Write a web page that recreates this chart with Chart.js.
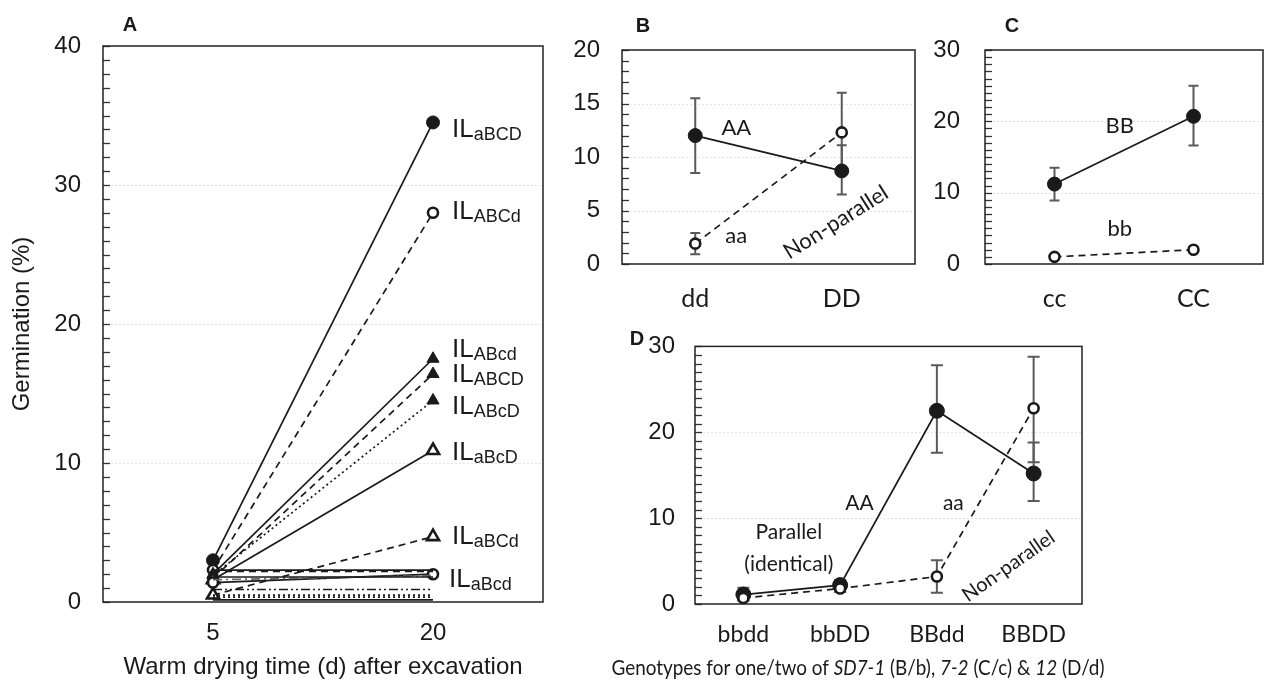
<!DOCTYPE html>
<html>
<head>
<meta charset="utf-8">
<script src="https://cdn.jsdelivr.net/npm/chart.js@4.4.1/dist/chart.umd.min.js"></script>
<style>
  html, body { margin: 0; padding: 0; background: #fff; }
  #wrap { position: relative; width: 1271px; height: 685px; overflow: hidden; }
  canvas { position: absolute; }
</style>
</head>
<body>
<div id="wrap">
  <canvas id="chartA" width="560" height="685" style="left:0;top:0"></canvas>
  <canvas id="chartB" width="370" height="320" style="left:560px;top:0"></canvas>
  <canvas id="chartC" width="341" height="320" style="left:930px;top:0"></canvas>
  <canvas id="chartD" width="671" height="373" style="left:600px;top:312px"></canvas>
</div>
<script>
/* ---- A: germination after warm drying, per introgression line ---- */
const A_DAYS  = ['5', '20'];
const A_TICKS = [0, 10, 20, 30, 40];
const IL_aBCD = [3.0, 34.5];
const IL_ABCd = [2.3, 28.0];
const IL_ABcd = [2.0, 17.5];
const IL_ABCD = [1.7, 16.4];
const IL_ABcD = [1.9, 14.5];
const IL_aBcD = [1.6, 10.9];
const IL_aBCd = [0.5, 4.7];
const IL_aBcd = [1.4, 2.0];
// unlabelled lines (stay low)
const IL_OTHER_1 = [2.3, 2.3];
const IL_OTHER_2 = [2.2, 2.2];
const IL_OTHER_3 = [1.6, 1.9];
const IL_OTHER_4 = [1.8, 1.8];
const IL_OTHER_5 = [0.9, 0.9];
const IL_OTHER_6 = [0.5, 0.5];
const IL_OTHER_7 = [0.35, 0.35];
const IL_OTHER_8 = [0.15, 0.15];

/* ---- B: A x D ---- */
const B_GENO  = ['dd', 'DD'];
const B_TICKS = [0, 5, 10, 15, 20];
const B_AA    = [12.0, 8.7];
const B_AA_HI = [15.5, 11.1];
const B_AA_LO = [8.5, 6.5];
const B_aa    = [1.9, 12.3];
const B_aa_HI = [2.9, 16.0];
const B_aa_LO = [0.9, 8.6];

/* ---- C: B x C ---- */
const C_GENO  = ['cc', 'CC'];
const C_TICKS = [0, 10, 20, 30];
const C_BB    = [11.2, 20.7];
const C_BB_HI = [13.5, 25.0];
const C_BB_LO = [8.9, 16.6];
const C_bb    = [1.0, 2.0];
const C_bb_HI = [1.3, 2.3];
const C_bb_LO = [0.7, 1.7];

/* ---- D: A x B x D ---- */
const D_GENO  = ['bbdd', 'bbDD', 'BBdd', 'BBDD'];
const D_TICKS = [0, 10, 20, 30];
const D_AA    = [1.1, 2.2, 22.5, 15.2];
const D_AA_HI = [1.9, 2.8, 27.8, 18.8];
const D_AA_LO = [0.4, 1.6, 17.6, 12.0];
const D_aa    = [0.7, 1.8, 3.2, 22.8];
const D_aa_HI = [1.0, 2.2, 5.1, 28.8];
const D_aa_LO = [0.4, 1.4, 1.3, 16.5];

Chart.defaults.font.family = '"Liberation Sans", Arial, sans-serif';
Chart.defaults.color = '#1a1a1a';
Chart.defaults.animation = false;

const INK = '#1a1a1a';
const DASH = {
  solid: [], dashed: [7, 5], dotted: [2, 3],
  dashdot: [9, 4, 2, 4], dashdotdot: [9, 3, 2, 3, 2, 3],
};
const CALIBRI = 'Lato, "Open Sans", sans-serif';

function series(data, dash, marker, size, extra) {
  const filled = marker === 'dot' || marker === 'tri';
  return Object.assign({
    data, borderColor: INK, borderWidth: 1.7, borderDash: DASH[dash],
    pointStyle: marker && marker.includes('tri') ? 'triangle' : 'circle',
    pointRadius: marker ? size : 0, pointHoverRadius: marker ? size : 0,
    pointBackgroundColor: filled ? INK : '#fff', pointBorderColor: INK,
    pointBorderWidth: filled ? 1 : 2.6,
  }, extra || {});
}

// ── frame, dotted grid, inner minor ticks, panel letter ─────────
function framePlugin(f) {
  return {
    id: 'frame',
    beforeDatasetsDraw(chart) {
      const { ctx, chartArea: a, scales: { y } } = chart;
      ctx.save();
      ctx.strokeStyle = '#e4e4e4'; ctx.lineWidth = 1; ctx.setLineDash([2, 2]);
      for (let v = f.grid; v < y.max; v += f.grid) {
        const py = Math.round(y.getPixelForValue(v)) + 0.5;
        ctx.beginPath(); ctx.moveTo(a.left, py); ctx.lineTo(a.right, py); ctx.stroke();
      }
      ctx.setLineDash([]); ctx.strokeStyle = '#333'; ctx.lineWidth = 1.3;
      for (let v = 0; v <= y.max; v += f.minor) {
        const py = Math.round(y.getPixelForValue(v)) + 0.5;
        ctx.beginPath(); ctx.moveTo(a.left, py); ctx.lineTo(a.left + 7, py); ctx.stroke();
      }
      ctx.strokeStyle = '#222'; ctx.lineWidth = 1.5;
      ctx.strokeRect(a.left, a.top, a.right - a.left, a.bottom - a.top);
      ctx.fillStyle = INK; ctx.font = 'bold 20px "Liberation Sans"';
      ctx.textAlign = 'center'; ctx.textBaseline = 'middle';
      ctx.fillText(f.letter, f.lx, f.ly);
      ctx.restore();
    },
  };
}

// ── error bars from errHi / errLo on each dataset ──────────────
function errorPlugin(cap) {
  return {
    id: 'errbars',
    beforeDatasetsDraw(chart) {
      const { ctx, scales: { y } } = chart;
      ctx.save();
      ctx.strokeStyle = '#5a5a5a'; ctx.lineWidth = 2;
      chart.data.datasets.forEach((ds, i) => {
        if (!ds.errHi) return;
        chart.getDatasetMeta(i).data.forEach((pt, j) => {
          const x = pt.x, hi = y.getPixelForValue(ds.errHi[j]), lo = y.getPixelForValue(ds.errLo[j]);
          ctx.beginPath();
          ctx.moveTo(x, hi); ctx.lineTo(x, lo);
          ctx.moveTo(x - cap, hi); ctx.lineTo(x + cap, hi);
          ctx.moveTo(x - cap, lo); ctx.lineTo(x + cap, lo);
          ctx.stroke();
        });
      });
      ctx.restore();
    },
  };
}

// ── text notes: plain/rotated, IL subscripts, mixed italic ────
function notesPlugin(notes) {
  return {
    id: 'notes',
    afterDatasetsDraw(chart) {
      const { ctx, scales: { x, y } } = chart;
      ctx.save();
      ctx.fillStyle = INK;
      notes.forEach(n => {
        if (n.sub) {
          const px = x.getPixelForValue(n.x) + n.dx, py = y.getPixelForValue(n.y) + n.dy;
          ctx.textAlign = 'left'; ctx.textBaseline = 'alphabetic';
          ctx.font = '26px "Liberation Sans"';
          ctx.fillText('IL', px, py);
          const w = ctx.measureText('IL').width;
          ctx.font = '18px "Liberation Sans"';
          ctx.fillText(n.sub, px + w, py + 3);
        } else if (n.rich) {
          ctx.textAlign = 'left'; ctx.textBaseline = 'middle';
          let total = 0;
          n.rich.forEach(([t, it]) => { ctx.font = (it ? 'italic ' : '') + n.font; total += ctx.measureText(t).width; });
          const k = Math.min(1, n.width / total);
          ctx.save();
          ctx.translate(n.px - total * k / 2, n.py); ctx.scale(k, 1);
          let cx = 0;
          n.rich.forEach(([t, it]) => {
            ctx.font = (it ? 'italic ' : '') + n.font;
            ctx.fillText(t, cx, 0);
            cx += ctx.measureText(t).width;
          });
          ctx.restore();
        } else {
          ctx.save();
          ctx.translate(x.getPixelForValue(n.x), y.getPixelForValue(n.y));
          ctx.rotate((n.rot || 0) * Math.PI / 180);
          ctx.font = n.font; ctx.textAlign = 'center'; ctx.textBaseline = 'middle';
          ctx.fillText(n.text, 0, 0);
          ctx.restore();
        }
      });
      ctx.restore();
    },
  };
}

function scalesFor(p) {
  return {
    x: {
      type: 'category', labels: p.labels, offset: true,
      grid: { display: false, drawTicks: false }, border: { display: false },
      ticks: { padding: p.xPad, color: INK, font: p.xFont },
      title: p.xTitle ? { display: true, text: p.xTitle, color: INK,
        font: { family: '"Liberation Sans"', size: 24 }, padding: { top: 0, bottom: 3 } } : { display: false },
      afterFit: s => { s.height = p.xHeight; },
    },
    y: {
      min: 0, max: p.ticks[p.ticks.length - 1],
      afterBuildTicks: s => { s.ticks = p.ticks.map(v => ({ value: v })); },
      grid: { display: false, drawTicks: false }, border: { display: false },
      ticks: { padding: p.yPad, color: INK, font: { family: '"Liberation Sans"', size: 24 } },
      title: p.yTitle ? { display: true, text: p.yTitle, color: INK,
        font: { family: '"Liberation Sans"', size: 24 }, padding: { top: 8 } } : { display: false },
      afterFit: s => { s.width = p.yWidth; },
    },
  };
}

function baseOptions(padding, scales) {
  return {
    responsive: false, animation: false,
    layout: { padding },
    plugins: { legend: { display: false }, tooltip: { enabled: false } },
    events: [],
    scales,
  };
}

// ── Panel A ────────────────────────────────────────────────────
new Chart(document.getElementById('chartA'), {
  type: 'line',
  data: {
    labels: A_DAYS,
    datasets: [
      series(IL_OTHER_8, 'solid', null, 0),
      series(IL_OTHER_7, 'dotted', null, 0),
      series(IL_OTHER_6, 'dotted', null, 0),
      series(IL_OTHER_5, 'dashdotdot', null, 0),
      series(IL_OTHER_4, 'solid', null, 0),
      series(IL_OTHER_3, 'dashdot', null, 0, { borderColor: '#666' }),
      series(IL_OTHER_2, 'dashed', null, 0),
      series(IL_OTHER_1, 'solid', null, 0),
      series(IL_aBcd, 'solid', 'ring', 5),
      series(IL_aBCd, 'dashed', 'otri', 7),
      series(IL_aBcD, 'solid', 'otri', 7),
      series(IL_ABcD, 'dotted', 'tri', 7),
      series(IL_ABCD, 'dashed', 'tri', 7),
      series(IL_ABcd, 'solid', 'tri', 7),
      series(IL_ABCd, 'dashed', 'ring', 5),
      series(IL_aBCD, 'solid', 'dot', 6.5),
    ],
  },
  options: baseOptions({ left: 0, right: 17, top: 46, bottom: 0 }, scalesFor({
    labels: A_DAYS, ticks: A_TICKS, xPad: 17, xHeight: 83, yPad: 22, yWidth: 103,
    xFont: { family: '"Liberation Sans"', size: 24 },
    xTitle: 'Warm drying time (d) after excavation', yTitle: 'Germination (%)',
  })),
  plugins: [
    framePlugin({ grid: 10, minor: 1, letter: 'A', lx: 130, ly: 25 }),
    notesPlugin([
      { sub: 'aBCD', x: 1, y: IL_aBCD[1], dx: 19, dy: 15 },
      { sub: 'ABCd', x: 1, y: IL_ABCd[1], dx: 19, dy: 6 },
      { sub: 'ABcd', x: 1, y: IL_ABcd[1], dx: 19, dy: -2 },
      { sub: 'ABCD', x: 1, y: IL_ABCD[1], dx: 19, dy: 8 },
      { sub: 'ABcD', x: 1, y: IL_ABcD[1], dx: 19, dy: 14 },
      { sub: 'aBcD', x: 1, y: IL_aBcD[1], dx: 19, dy: 10 },
      { sub: 'aBCd', x: 1, y: IL_aBCd[1], dx: 19, dy: 7 },
      { sub: 'aBcd', x: 1, y: IL_aBcd[1], dx: 16, dy: 13 },
    ]),
  ],
});

// ── Panel B ────────────────────────────────────────────────────
new Chart(document.getElementById('chartB'), {
  type: 'line',
  data: {
    labels: B_GENO,
    datasets: [
      series(B_aa, 'dashed', 'ring', 5, { errHi: B_aa_HI, errLo: B_aa_LO }),
      series(B_AA, 'solid', 'dot', 7, { errHi: B_AA_HI, errLo: B_AA_LO }),
    ],
  },
  options: baseOptions({ left: 0, right: 15, top: 50, bottom: 0 }, scalesFor({
    labels: B_GENO, ticks: B_TICKS, xPad: 20, xHeight: 56, yPad: 22, yWidth: 62,
    xFont: { family: CALIBRI, size: 25 },
  })),
  plugins: [
    framePlugin({ grid: 5, minor: 1, letter: 'B', lx: 83, ly: 26 }),
    errorPlugin(5),
    notesPlugin([
      { text: 'AA', x: 0.28, y: 12.7, font: '22px ' + CALIBRI },
      { text: 'aa', x: 0.28, y: 2.6, font: '22px ' + CALIBRI },
      { text: 'Non-parallel', x: 0.96, y: 3.9, rot: -32, font: '22px ' + CALIBRI },
    ]),
  ],
});

// ── Panel C ────────────────────────────────────────────────────
new Chart(document.getElementById('chartC'), {
  type: 'line',
  data: {
    labels: C_GENO,
    datasets: [
      series(C_bb, 'dashed', 'ring', 5, { errHi: C_bb_HI, errLo: C_bb_LO }),
      series(C_BB, 'solid', 'dot', 7, { errHi: C_BB_HI, errLo: C_BB_LO }),
    ],
  },
  options: baseOptions({ left: 0, right: 2, top: 50, bottom: 0 }, scalesFor({
    labels: C_GENO, ticks: C_TICKS, xPad: 20, xHeight: 56, yPad: 25, yWidth: 55,
    xFont: { family: CALIBRI, size: 25 },
  })),
  plugins: [
    framePlugin({ grid: 10, minor: 1, letter: 'C', lx: 82, ly: 26 }),
    errorPlugin(5),
    notesPlugin([
      { text: 'BB', x: 0.47, y: 19.4, font: '22px ' + CALIBRI },
      { text: 'bb', x: 0.47, y: 4.9, font: '22px ' + CALIBRI },
    ]),
  ],
});

// ── Panel D ────────────────────────────────────────────────────
new Chart(document.getElementById('chartD'), {
  type: 'line',
  data: {
    labels: D_GENO,
    datasets: [
      series(D_aa, 'dashed', 'ring', 5, { errHi: D_aa_HI, errLo: D_aa_LO }),
      series(D_AA, 'solid', 'dot', 7.5, { errHi: D_AA_HI, errLo: D_AA_LO }),
    ],
  },
  options: baseOptions({ left: 0, right: 189, top: 27, bottom: 0 }, scalesFor({
    labels: D_GENO, ticks: D_TICKS, xPad: 17, xHeight: 81, yPad: 20, yWidth: 95,
    xFont: { family: CALIBRI, size: 23 },
  })),
  plugins: [
    framePlugin({ grid: 10, minor: 1, letter: 'D', lx: 37, ly: 27 }),
    errorPlugin(6),
    notesPlugin([
      { text: 'AA', x: 1.2, y: 11.7, font: '21px ' + CALIBRI },
      { text: 'aa', x: 2.17, y: 11.7, font: '21px ' + CALIBRI },
      { text: 'Parallel', x: 0.47, y: 8.3, font: '21px ' + CALIBRI },
      { text: '(identical)', x: 0.47, y: 4.6, font: '21px ' + CALIBRI },
      { text: 'Non-parallel', x: 2.74, y: 4.4, rot: -35, font: '20px ' + CALIBRI },
      { rich: [['Genotypes for one/two of ', false], ['SD7-1', true], [' (B/b), ', false],
               ['7-2', true], [' (C/c) & ', false], ['12', true], [' (D/d)', false]],
        px: 258, py: 356, width: 493, font: '22px ' + CALIBRI },
    ]),
  ],
});
</script>
</body>
</html>
